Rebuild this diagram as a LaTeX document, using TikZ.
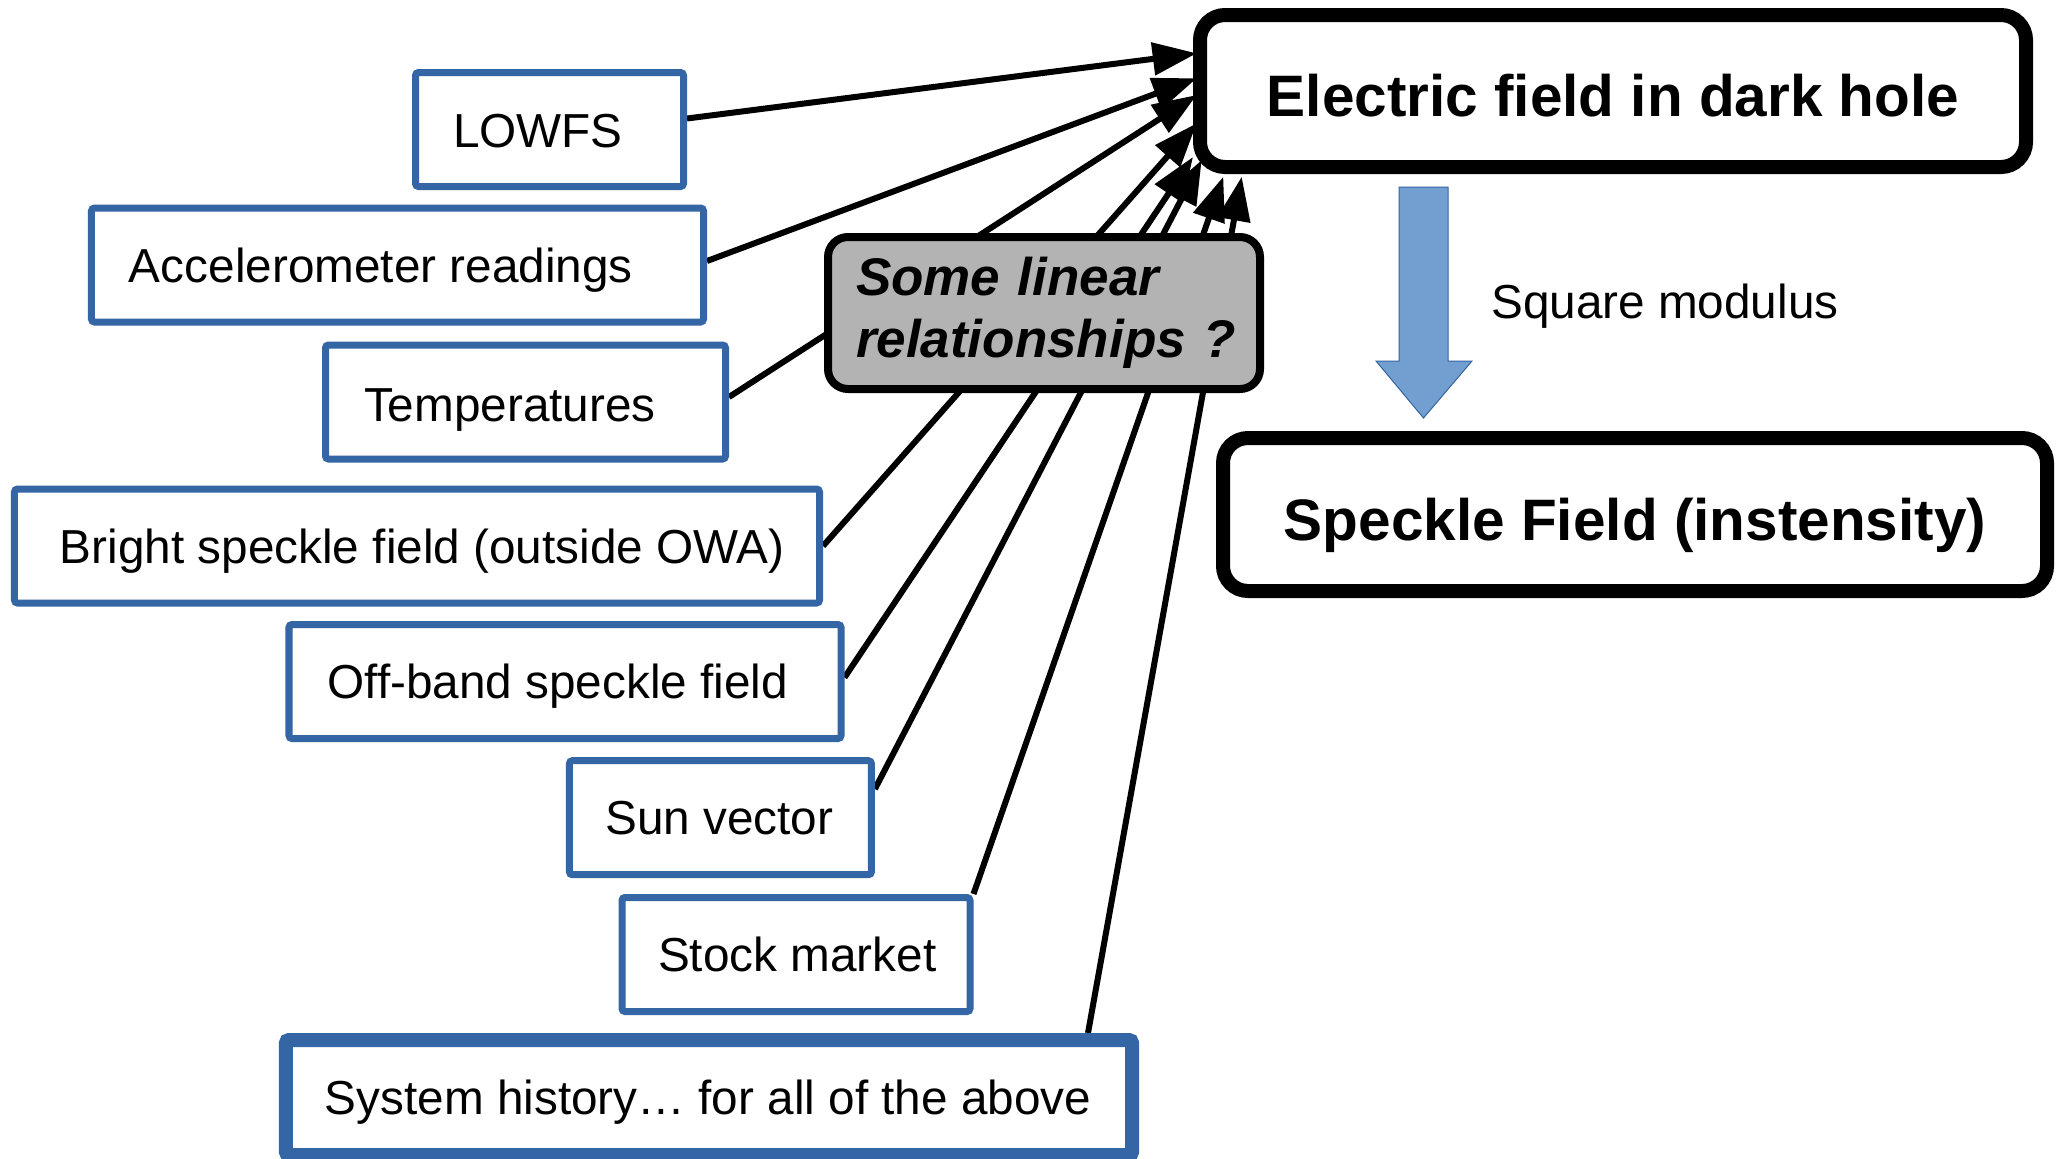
\documentclass[tikz,border=0pt]{standalone}
\usepackage{fontspec}
\setmainfont{Liberation Sans}
\usetikzlibrary{arrows.meta}
\definecolor{boxblue}{HTML}{3465A4}
\definecolor{arrowblue}{HTML}{729FCF}
\definecolor{graybox}{HTML}{B3B3B3}
\newcommand\bxfont{\fontsize{47.7bp}{57bp}\selectfont}
\newcommand\hdfont{\fontsize{58.5bp}{66bp}\selectfont\bfseries}
\newcommand\gyfont{\fontsize{53bp}{62bp}\selectfont\bfseries\itshape}
\pgfdeclarelayer{backlayer}
\pgfsetlayers{backlayer,main}
\begin{document}
\begin{tikzpicture}[x=1bp,y=-1bp,
  bbox/.style={draw=boxblue, line width=7bp, fill=white, inner sep=0pt, align=left,
    font=\bxfont, rounded corners=3bp, minimum height=114bp, text height=34bp, text depth=0bp,
    execute at begin node={\spaceskip=0pt\xspaceskip=0pt\relax}},
  bigbox/.style={draw=black, line width=14bp, fill=white, rounded corners=25bp,
    inner sep=0pt, font=\hdfont, text depth=0bp},
  conn/.style={line width=6bp, -{Triangle[length=44bp,width=32bp]}},
]
\clip (0,0) rectangle (2063,1158);

% target boxes
\node[bigbox, minimum width=826bp, minimum height=152bp, text height=51bp] (elec) at (1613,91) {Electric field in dark hole};
\node[bigbox, minimum width=824bp, minimum height=153bp, text height=51bp] (speck) at (1635,514.5) {Speckle Field (instensity)};

% blue block arrow
\draw[fill=arrowblue, draw=boxblue, line width=1bp] (1399,187) -- (1448,187) -- (1448,361) -- (1472,361) -- (1423.5,418) -- (1376,361) -- (1399,361) -- cycle;
\node[anchor=base west, font=\bxfont, inner sep=0pt] (sq) at (1491,318) {Square modulus};

% gray box
\node[draw=black, line width=8bp, fill=graybox, rounded corners=20bp, minimum width=432bp,
  minimum height=152bp, text width=376bp, inner sep=0pt, align=left, font=\gyfont] (gray) at (1044,313)
  {Some linear\\relationships~?};

% source boxes
\node[bbox, minimum width=268bp, text width=193bp, text height=36bp] (lowfs) at (549.5,129.5) {LOWFS};
\node[bbox, minimum width=612bp, text width=537bp] (accel) at (397.5,265) {\mbox{Accelerometer readings}};
\node[bbox, minimum width=400bp, text width=323bp, text height=38bp] (temp) at (525.5,402) {Temperatures};
\node[bbox, minimum width=805bp, text width=714bp] (bright) at (417,546) {\mbox{Bright speckle field (outside OWA)}};
\node[bbox, minimum width=552bp, text width=475bp] (offband) at (565,681.5) {\mbox{Off-band speckle field}};
\node[bbox, minimum width=302bp, text width=230bp] (sun) at (720.4,817.7) {\mbox{Sun vector}};
\node[bbox, minimum width=348bp, text width=276bp] (stock) at (796,954.5) {\mbox{Stock market}};
\node[bbox, line width=14bp, minimum width=846bp, minimum height=115bp, text width=768bp] (sys) at (709,1097.5) {\mbox{System history… for all of the above}};

% arrow tips on the electric-field box
\coordinate (tA) at (1196.7,53.3);
\coordinate (tB) at (1196.7,78.3);
\coordinate (tC) at (1196.7,95);
\coordinate (tD) at (1196.7,123.3);
\coordinate (tE) at (1193,157);
\coordinate (tF) at (1201.7,160);
\coordinate (tG) at (1223.3,176.7);
\coordinate (tH) at (1241.7,176.7);

\begin{pgfonlayer}{backlayer}
\fill[white] (0,0) rectangle (2063,1158);
\draw[conn] ([yshift=11bp]lowfs.east) -- (tA);
\draw[conn] ([yshift=4bp]accel.east) -- (tB);
\draw[conn] ([yshift=5bp]temp.east) -- (tC);
\draw[conn] (bright.east) -- (tD);
\draw[conn] ([yshift=4bp]offband.east) -- (tE);
\draw[conn] ([yshift=28.7bp]sun.east) -- (tF);
\draw[conn] (stock.north east) -- (tG);
\draw[conn] ([xshift=379bp]sys.north) -- (tH);
\end{pgfonlayer}
\end{tikzpicture}
\end{document}
